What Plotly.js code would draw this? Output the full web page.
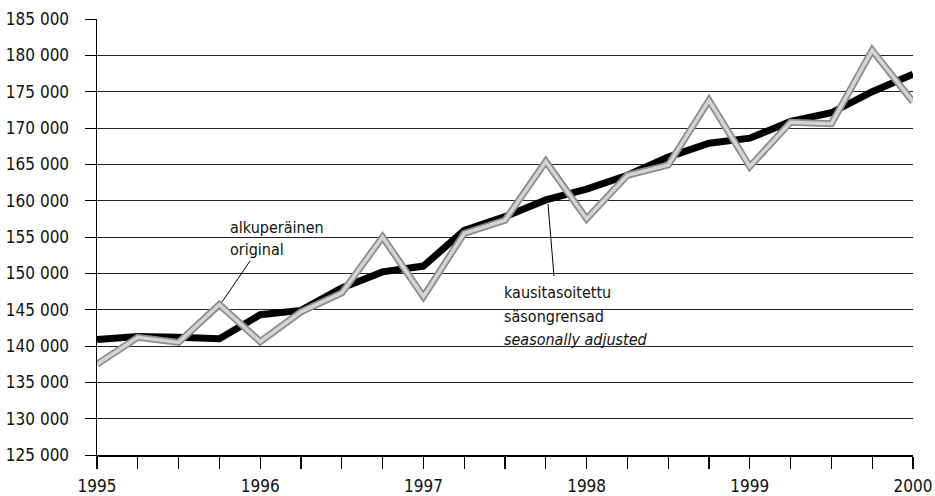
<!DOCTYPE html>
<html>
<head>
<meta charset="utf-8">
<script src="https://cdn.plot.ly/plotly-3.0.1.min.js"></script>
<style>html,body{margin:0;padding:0;background:#fff;}#chart{width:935px;height:496px;}</style>
</head>
<body>
<div id="chart"></div>
<script>
// Quarterly periods 1995Q1 .. 2000Q1
const periods = ['1995Q1','1995Q2','1995Q3','1995Q4','1996Q1','1996Q2','1996Q3','1996Q4',
  '1997Q1','1997Q2','1997Q3','1997Q4','1998Q1','1998Q2','1998Q3','1998Q4',
  '1999Q1','1999Q2','1999Q3','1999Q4','2000Q1'];
const original = [137500,141200,140500,145700,140600,144700,147300,155000,
  146800,155500,157300,165400,157500,163500,164900,173800,
  164700,170800,170600,180700,173600];
const seasonallyAdjusted = [140900,141300,141200,141000,144300,144900,148000,150200,
  151000,155900,157800,160100,161600,163500,166000,167900,
  168600,170900,172100,175000,177400];
const yearTicks = [1995,1996,1997,1998,1999,2000];
const yearLabels = ['1995','1996','1997','1998','1999','2000'];

const xs = periods.map(p => parseInt(p.slice(0,4)) + (parseInt(p.slice(5)) - 1) / 4);
const FONT = '"DejaVu Sans Condensed", "Liberation Sans Narrow", sans-serif';

const traces = [
  {x: xs, y: seasonallyAdjusted, type: 'scatter', mode: 'lines', name: 'kausitasoitettu',
   line: {color: '#000', width: 7}, hoverinfo: 'skip'},
  {x: xs, y: original, type: 'scatter', mode: 'lines', name: 'alkuperäinen',
   line: {color: '#8c8c8c', width: 7}, hoverinfo: 'skip'},
  {x: xs, y: original, type: 'scatter', mode: 'lines', name: 'alkuperäinen (fill)',
   line: {color: '#d4d4d4', width: 3.5}, hoverinfo: 'skip'}
];

const layout = {
  width: 935, height: 496,
  margin: {l: 97, r: 22, t: 19, b: 41},
  paper_bgcolor: '#fff', plot_bgcolor: '#fff',
  showlegend: false,
  separators: ', ',
  font: {family: FONT, size: 17, color: '#111'},
  xaxis: {
    range: [1995, 2000], tickmode: 'array', tickvals: yearTicks, ticktext: yearLabels,
    ticks: 'outside', ticklen: 12, tickwidth: 1.2, tickcolor: '#000',
    showgrid: false, zeroline: false, showline: true, linecolor: '#000', linewidth: 1.5,
    ticklabelstandoff: 3,
    minor: {dtick: 0.25, tick0: 1995, ticks: 'outside', ticklen: 12, tickwidth: 1.2, tickcolor: '#000', showgrid: false},
    tickfont: {family: FONT, size: 17, color: '#111'}, fixedrange: true
  },
  yaxis: {
    range: [125000, 185000], dtick: 5000, tick0: 125000, tickformat: ',d',
    ticks: 'outside', ticklen: 11, tickwidth: 1, tickcolor: '#000',
    showgrid: true, gridcolor: '#222', gridwidth: 1,
    zeroline: false, showline: true, linecolor: '#000', linewidth: 1.5,
    ticklabelstandoff: 12,
    tickfont: {family: FONT, size: 17, color: '#111'}, fixedrange: true
  },
  annotations: [
    {xref: 'paper', yref: 'paper', x: (228-97)/816, y: (455-227)/436, xanchor: 'left', yanchor: 'middle',
     text: 'alkuperäinen', showarrow: false, font: {family: FONT, size: 16, color: '#111'}},
    {xref: 'paper', yref: 'paper', x: (228-97)/816, y: (455-249)/436, xanchor: 'left', yanchor: 'middle',
     text: 'original', showarrow: false, font: {family: FONT, size: 16, color: '#111'}},
    {xref: 'paper', yref: 'paper', x: (502-97)/816, y: (455-292)/436, xanchor: 'left', yanchor: 'middle',
     text: 'kausitasoitettu', showarrow: false, font: {family: FONT, size: 16, color: '#111'}},
    {xref: 'paper', yref: 'paper', x: (502-97)/816, y: (455-316)/436, xanchor: 'left', yanchor: 'middle',
     text: 'säsongrensad', showarrow: false, font: {family: FONT, size: 16, color: '#111'}},
    {xref: 'paper', yref: 'paper', x: (502-97)/816, y: (455-339)/436, xanchor: 'left', yanchor: 'middle',
     text: '<i>seasonally adjusted</i>', showarrow: false, font: {family: FONT, size: 16, color: '#111'}}
  ],
  shapes: [
    {type: 'line', xref: 'paper', yref: 'paper', x0: (250-97)/816, y0: (455-261)/436, x1: (222-97)/816, y1: (455-302)/436,
     line: {color: '#000', width: 1}},
    {type: 'line', xref: 'paper', yref: 'paper', x0: (548-97)/816, y0: (455-204)/436, x1: (554-97)/816, y1: (455-276)/436,
     line: {color: '#000', width: 1}}
  ]
};

Plotly.newPlot('chart', traces, layout, {staticPlot: true, displayModeBar: false});
</script>
</body>
</html>
